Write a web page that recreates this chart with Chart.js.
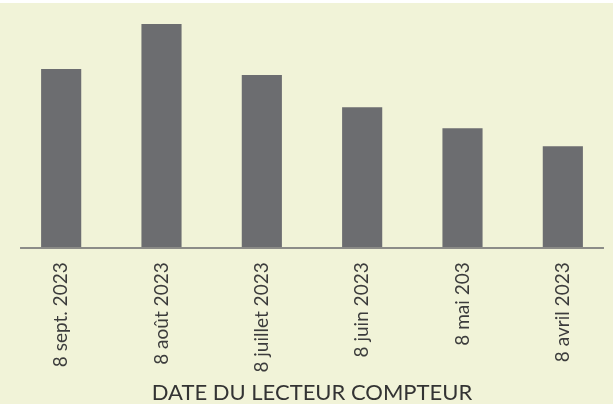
<!DOCTYPE html>
<html>
<head>
<meta charset="utf-8">
<script src="https://cdn.jsdelivr.net/npm/chart.js@4"></script>
<style>
  html, body { margin: 0; padding: 0; background: #ffffff; }
  #wrap { position: absolute; left: 0; top: 3px; width: 613px; height: 401px; background: #f1f3d8; overflow: hidden; }
</style>
</head>
<body>
<div id="wrap"><canvas id="chart" width="613" height="401"></canvas></div>
<script>
// ── data
const dates = ["8 sept. 2023", "8 août 2023", "8 juillet 2023", "8 juin 2023", "8 mai 203", "8 avril 2023"];
const readings = [178, 223, 172, 140, 119, 101];
const yMax = 240;

// baseline drawn under the bars, a bit shorter than the chart area
const baseline = {
  id: "baseline",
  beforeDatasetsDraw(chart) {
    const { ctx, scales: { x, y } } = chart;
    const step = x.getPixelForValue(1) - x.getPixelForValue(0);
    const y0 = Math.round(y.getPixelForValue(0)) + 1;
    ctx.save();
    ctx.strokeStyle = "#8c8c88";
    ctx.lineWidth = 2;
    ctx.beginPath();
    ctx.moveTo(x.getPixelForValue(0) - step * 0.41, y0);
    ctx.lineTo(x.getPixelForValue(dates.length - 1) + step * 0.41, y0);
    ctx.stroke();
    ctx.restore();
  }
};

new Chart(document.getElementById("chart"), {
  type: "bar",
  data: {
    labels: dates,
    datasets: [{ data: readings, backgroundColor: "#6c6d70", barPercentage: 0.4, categoryPercentage: 1 }]
  },
  options: {
    responsive: false,
    animation: false,
    layout: { padding: { left: 11, right: 0, top: 4, bottom: -2 } },
    plugins: { legend: { display: false }, tooltip: { enabled: false } },
    scales: {
      x: {
        grid: { display: false },
        border: { display: false },
        ticks: { color: "#3c3c3c", font: { family: "Lato", size: 19 }, minRotation: 90, maxRotation: 90, padding: 7 },
        title: { display: true, text: "DATE DU LECTEUR COMPTEUR", color: "#333333", font: { family: "Lato", size: 22 }, padding: { top: 0, bottom: 0 } }
      },
      y: { display: false, min: 0, max: yMax }
    }
  },
  plugins: [baseline]
});
</script>
</body>
</html>
